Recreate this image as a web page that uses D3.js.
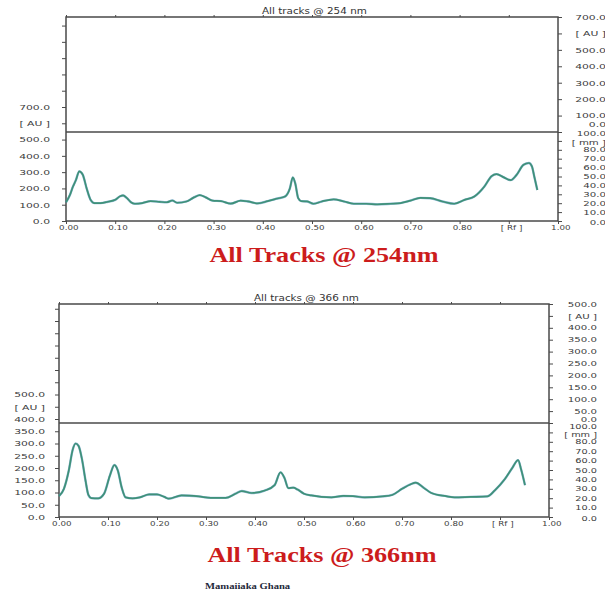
<!DOCTYPE html>
<html><head><meta charset="utf-8">
<script src="https://cdn.jsdelivr.net/npm/d3@7"></script>
<style>body{margin:0;background:#fff}svg{display:block}</style>
</head><body><svg id="c" width="605" height="591"></svg>
<script>
// ---------- data ----------
const rf254 = [0.000,0.008,0.014,0.020,0.027,0.034,0.042,0.050,0.058,0.070,0.085,0.100,0.110,0.116,0.124,0.132,0.140,0.155,0.172,0.190,0.205,0.216,0.226,0.245,0.260,0.272,0.284,0.298,0.315,0.335,0.355,0.370,0.390,0.410,0.430,0.445,0.455,0.461,0.466,0.472,0.478,0.490,0.503,0.520,0.544,0.565,0.585,0.610,0.633,0.660,0.680,0.700,0.720,0.740,0.765,0.789,0.810,0.830,0.850,0.865,0.875,0.890,0.904,0.915,0.930,0.941,0.947,0.952,0.958];
const au254 = [115,160,210,250,305,285,200,130,110,110,118,130,152,157,140,115,106,110,122,118,115,126,112,120,145,159,145,125,122,107,125,120,108,122,138,150,200,268,230,140,122,120,106,120,133,120,106,106,102,106,110,125,142,140,120,106,130,150,210,275,288,268,251,280,345,356,335,270,190];
const rf366 = [0.000,0.010,0.020,0.028,0.034,0.040,0.047,0.054,0.060,0.066,0.080,0.092,0.104,0.113,0.120,0.128,0.136,0.150,0.165,0.184,0.200,0.215,0.224,0.250,0.285,0.310,0.340,0.360,0.373,0.393,0.420,0.440,0.452,0.460,0.468,0.478,0.487,0.500,0.515,0.556,0.580,0.600,0.624,0.660,0.680,0.700,0.718,0.728,0.745,0.760,0.790,0.807,0.840,0.874,0.890,0.910,0.925,0.937,0.943,0.951];
const au366 = [85,115,190,275,300,290,235,150,90,77,76,95,170,212,190,120,80,76,80,92,92,82,75,88,84,78,78,95,106,98,108,130,182,160,118,120,112,95,88,80,86,85,80,84,90,115,134,140,118,98,85,80,82,84,110,155,200,232,195,130];

const xTickValues = [0,0.1,0.2,0.3,0.4,0.5,0.6,0.7,0.8,0.9,1.0];
const xTickLabels = ["0.00","0.10","0.20","0.30","0.40","0.50","0.60","0.70","0.80","[ Rf ]","1.00"];

const auTicks254 = [0,100,200,300,400,500,600,700];
const auLabels254 = ["0.0","100.0","200.0","300.0","400.0","500.0","[ AU ]","700.0"];
const auTicks366 = [0,50,100,150,200,250,300,350,400,450,500];
const auLabels366 = ["0.0","50.0","100.0","150.0","200.0","250.0","300.0","350.0","400.0","[ AU ]","500.0"];
const mmTicks = [0,10,20,30,40,50,60,70,80,90,100];
const mmLabels = ["0.0","10.0","20.0","30.0","40.0","50.0","60.0","70.0","80.0","[ mm ]","100.0"];

const panelTitles = ["All tracks @ 254 nm","All tracks @ 366 nm"];
const captions = ["All Tracks @ 254nm","All Tracks @ 366nm"];
const footer = "Mamaiiaka Ghana";

// ---------- drawing ----------
const svg = d3.select("#c");
const SX = 1.5;
const FS = 7.2;
const axisColor = "#4a4a4a";

function styleLabels(sel, fs){
  sel.selectAll("text").attr("font-family","DejaVu Sans, Verdana, sans-serif")
     .attr("font-size",fs||FS).attr("fill","#3c3c3c");
}

function panel(cfg){
  const g = svg.append("g");
  const x = d3.scaleLinear().domain([0,1]).range([cfg.x0,cfg.x1]);
  const auMax = cfg.auTicks[cfg.auTicks.length-1];
  const yL = d3.scaleLinear().domain([0,auMax]).range([cfg.bot,cfg.leftMaxPx]);
  const yR = d3.scaleLinear().domain([0,auMax]).range([cfg.div,cfg.top]);
  const yM = d3.scaleLinear().domain([0,100]).range([cfg.bot,cfg.div]);
  const step = cfg.auTicks[1]-cfg.auTicks[0];
  const leftAll = d3.range(0, yL.invert(cfg.top)+0.001, step);

  // left axis
  const la = g.append("g").attr("transform",`translate(${cfg.x0},0)`)
    .call(d3.axisLeft(yL).tickValues(leftAll).tickSize(4).tickSizeOuter(0)
      .tickFormat(d => { const i = cfg.auTicks.indexOf(d); return i>=0 ? cfg.auLabels[i] : ""; }));
  styleLabels(la);
  la.selectAll("text").attr("x",-cfg.leftPad/SX).attr("transform",`scale(${SX},1)`);
  la.select(".domain").remove();

  // right axis upper (AU)
  const ra = g.append("g").attr("transform",`translate(${cfg.x1},0)`)
    .call(d3.axisRight(yR).tickValues(cfg.auTicks).tickSize(4).tickSizeOuter(0)
      .tickFormat((d,i)=>cfg.auLabels[i]));
  styleLabels(ra, cfg.rfs);
  ra.selectAll("text").attr("text-anchor","end").attr("x",48/SX)
    .attr("transform",`scale(${SX},1)`)
    .attr("dy",(d)=> d===0 ? cfg.au0dy : cfg.rfs*0.32);
  ra.select(".domain").remove();

  // right axis lower (mm)
  const rm = g.append("g").attr("transform",`translate(${cfg.x1},0)`)
    .call(d3.axisRight(yM).tickValues(mmTicks).tickSize(4).tickSizeOuter(0)
      .tickFormat((d,i)=>mmLabels[i]));
  styleLabels(rm, cfg.mfs);
  rm.selectAll("text").attr("text-anchor","end").attr("x",48/SX)
    .attr("transform",`scale(${SX},1)`)
    .attr("dy",(d)=> d===100 ? cfg.mm100dy : (d===90 ? cfg.mm90dy : (d===0 ? cfg.mfs*0.55 : cfg.mfs*0.32)));
  rm.select(".domain").remove();

  // bottom axis
  const ba = g.append("g").attr("transform",`translate(0,${cfg.bot})`)
    .call(d3.axisBottom(x).tickValues(xTickValues).tickSize(3).tickSizeOuter(0)
      .tickFormat((d,i)=>xTickLabels[i]));
  styleLabels(ba, 7.6);
  ba.selectAll("text").attr("y",4).attr("x",2).attr("transform","scale(1.15,1)");
  ba.select(".domain").remove();

  // top axis
  const ta = g.append("g").attr("transform",`translate(0,${cfg.top})`)
    .call(d3.axisTop(x).tickValues(xTickValues.slice(0,10)).tickSize(2).tickSizeOuter(0).tickFormat(""));
  ta.select(".domain").remove();

  g.selectAll(".tick line").attr("stroke",axisColor).attr("stroke-width",1);

  // frame + divider
  g.append("rect").attr("x",cfg.x0).attr("y",cfg.top)
    .attr("width",cfg.x1-cfg.x0).attr("height",cfg.bot-cfg.top)
    .attr("fill","none").attr("stroke",axisColor).attr("stroke-width",1.5);
  g.append("line").attr("x1",cfg.x0).attr("x2",cfg.x1)
    .attr("y1",cfg.div).attr("y2",cfg.div)
    .attr("stroke",axisColor).attr("stroke-width",1.3);

  // small title
  g.append("text").attr("transform",`translate(${cfg.titleX},${cfg.top-3}) scale(1.3,1)`)
    .attr("font-family","DejaVu Sans, sans-serif").attr("font-size",8)
    .attr("fill","#333").text(cfg.title);

  // trace
  const pts = cfg.rf.map((r,i)=>[r,cfg.au[i]]);
  const line = d3.line().x(d=>x(d[0])).y(d=>yL(d[1])).curve(d3.curveMonotoneX);
  g.append("path").attr("d",line(pts)).attr("fill","none")
    .attr("stroke","#4f8fbf").attr("stroke-width",2.4).attr("opacity",0.6);
  g.append("path").attr("d",line(pts)).attr("fill","none")
    .attr("stroke","#3f9178").attr("stroke-width",1.7);

  // caption
  svg.append("text").attr("transform",`translate(${cfg.capX},${cfg.capY}) scale(1.19,1)`)
    .attr("text-anchor","middle")
    .attr("font-family","Liberation Serif, Times New Roman, serif")
    .attr("font-weight","bold").attr("font-size",22).attr("fill","#cc1c1c")
    .text(cfg.caption);
}

panel({x0:66,x1:558,top:17,div:132,bot:221,leftMaxPx:107,leftPad:16,
  rfs:7.2,mfs:6.8,au0dy:-5.4,mm100dy:3.7,mm90dy:3.7,
  auTicks:auTicks254,auLabels:auLabels254,rf:rf254,au:au254,
  title:panelTitles[0],titleX:262,caption:captions[0],capX:324,capY:262});
panel({x0:59,x1:549,top:304,div:423,bot:517,leftMaxPx:394.5,leftPad:14,
  rfs:6.8,mfs:6.5,au0dy:-2,mm100dy:5.8,mm90dy:4.2,
  auTicks:auTicks366,auLabels:auLabels366,rf:rf366,au:au366,
  title:panelTitles[1],titleX:254,caption:captions[1],capX:322,capY:562});

svg.append("text").attr("transform","translate(205,589) scale(1.18,1)")
  .attr("font-family","Liberation Serif, Times New Roman, serif")
  .attr("font-weight","bold").attr("font-size",9).attr("fill","#1f2a3a")
  .text(footer);
</script></body></html>
